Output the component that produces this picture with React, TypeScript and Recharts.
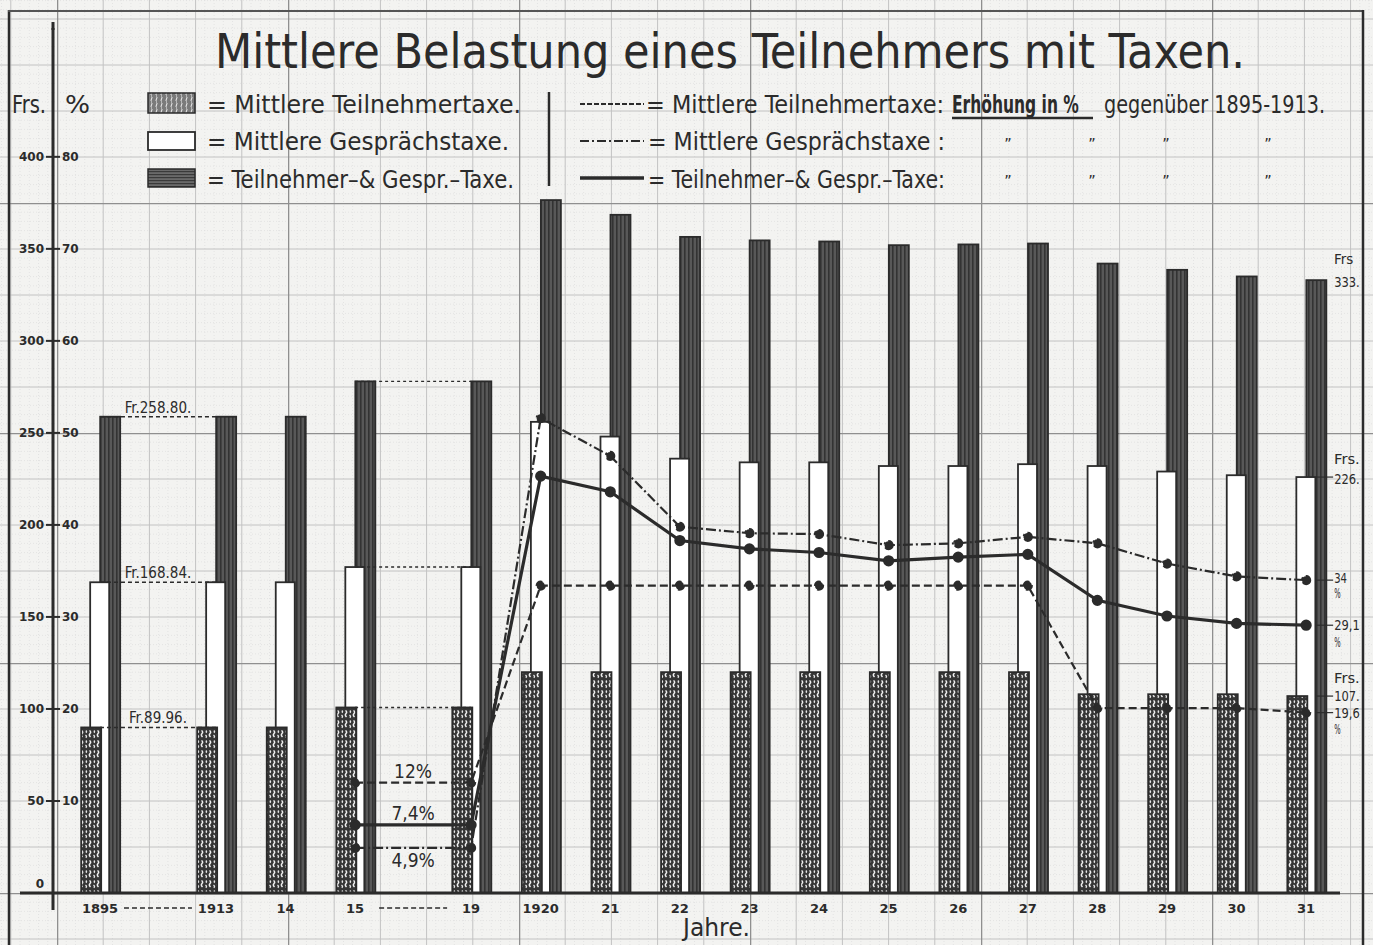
import React from "react";
import {
  ComposedChart,
  Bar,
  Line,
  XAxis,
  YAxis,
  ReferenceLine,
  ReferenceDot,
} from "recharts";

// Jahre (tick labels); "1913" and "19" close a "von–bis" span on the axis
const years = ["1895", "1913", "14", "15", "19", "1920", "21", "22", "23", "24", "25", "26", "27", "28", "29", "30", "31"];
const rangeEnds = ["1913", "19"];

// Frs. per Teilnehmer
const teilnehmerTaxe = [89.96, 89.96, 89.96, 100.8, 100.8, 120, 120, 120, 120, 120, 120, 120, 120, 108, 108, 108, 107];
const gespraechsTaxe = [168.84, 168.84, 168.84, 177.1, 177.1, 256, 248, 236, 234, 234, 232, 232, 233, 232, 229, 227, 226];
const gesamtTaxe = [258.8, 258.8, 258.8, 278, 278, 376.5, 368.5, 356.5, 354.6, 354, 352, 352.4, 352.9, 342, 338.6, 335, 333];

// Erhöhung in % gegenüber 1895-1913
const teilnehmerPct = [null, null, null, 12, 12, 33.4, 33.4, 33.4, 33.4, 33.4, 33.4, 33.4, 33.4, 20.1, 20.1, 20.1, 19.6];
const gespraechsPct = [null, null, null, 4.9, 4.9, 51.6, 47.5, 39.8, 39.1, 39.0, 37.8, 38.0, 38.7, 38.0, 35.8, 34.4, 34];
const gesamtPct = [null, null, null, 7.4, 7.4, 45.3, 43.6, 38.3, 37.4, 37.0, 36.1, 36.5, 36.8, 31.8, 30.1, 29.3, 29.1];

const frsTicks = [0, 50, 100, 150, 200, 250, 300, 350, 400];

const W = 1373;
const H = 945;
const AXIS_X = 53;
const AXIS_Y = 893;
const MARGIN = { top: 28, right: 33, bottom: 22, left: 0 };
const X_DOMAIN: [number, number] = [-0.675, 17.82];
const PX_PER_STEP = (W - MARGIN.right - AXIS_X) / (X_DOMAIN[1] - X_DOMAIN[0]);
const RANGE_STEP = 5 / 3;

const INK = "#2b2b2b";
const PAPER = "#f3f3f1";
const FONT = "'DejaVu Sans Condensed', 'Liberation Sans Narrow', 'DejaVu Sans', sans-serif";
const TICK_FONT = "'DejaVu Sans', sans-serif";

// spans like 1895-1913 get a wider step than single years
const positions: number[] = [];
years.forEach((y, i) => {
  positions.push(i === 0 ? 0 : positions[i - 1] + (rangeEnds.includes(y) ? RANGE_STEP : 1));
});

const data = years.map((year, i) => ({
  pos: positions[i],
  year,
  tn: teilnehmerTaxe[i],
  gs: gespraechsTaxe[i],
  sum: gesamtTaxe[i],
  tnPct: teilnehmerPct[i],
  gsPct: gespraechsPct[i],
  sumPct: gesamtPct[i],
}));

const last = years.length - 1;
const fr = (v: number) => `Fr.${v.toFixed(2)}.`;
const pct = (v: number) => `${String(v).replace(".", ",")}%`;

const barShape = (dx: number, fill: string) => (p: any) => (
  <rect x={p.x + dx} y={p.y} width={p.width} height={p.height} fill={fill} stroke={INK} strokeWidth={1.8} />
);

const FrsTick = (p: any) => {
  const v = p.payload.value;
  const y = p.y;
  if (v === 0) {
    return (
      <text x={40} y={y - 5} textAnchor="middle" fontSize={12} fontWeight="bold" fontFamily={TICK_FONT} fill={INK}>
        0
      </text>
    );
  }
  return (
    <g>
      <text x={44} y={y + 4} textAnchor="end" fontSize={12} fontWeight="bold" fontFamily={TICK_FONT} fill={INK}>
        {v}
      </text>
      <line x1={AXIS_X - 7} x2={AXIS_X + 7} y1={y} y2={y} stroke={INK} strokeWidth={2} />
      <text x={62} y={y + 4} textAnchor="start" fontSize={12} fontWeight="bold" fontFamily={TICK_FONT} fill={INK}>
        {v / 5}
      </text>
    </g>
  );
};

const YearTick = (p: any) => {
  const i = positions.findIndex((v) => Math.abs(v - p.payload.value) < 1e-9);
  const label = years[i] ?? "";
  const x = p.x;
  const y = AXIS_Y + 20;
  const isEnd = rangeEnds.includes(label);
  return (
    <g>
      {isEnd && (
        <line
          x1={x - RANGE_STEP * PX_PER_STEP + 24}
          x2={x - 24}
          y1={y - 5}
          y2={y - 5}
          stroke={INK}
          strokeWidth={1.5}
          strokeDasharray="5 3"
        />
      )}
      <text x={x} y={y} textAnchor="middle" fontSize={13} fontWeight="bold" fontFamily={TICK_FONT} fill={INK}>
        {label}
      </text>
    </g>
  );
};

const SideNote = (lines: string[], dy: number[], lead: boolean) => (p: any) => {
  const vb = p.viewBox || {};
  const cx = (vb.x ?? 0) + (vb.width ?? 0) / 2;
  const cy = (vb.y ?? 0) + (vb.height ?? 0) / 2;
  return (
    <g>
      {lead && <line x1={cx + 10} x2={cx + 27} y1={cy} y2={cy} stroke={INK} strokeWidth={1.2} />}
      {lines.map((t, k) => (
        <text
          key={k}
          x={cx + 28}
          y={cy + dy[k]}
          fontSize={14}
          fontFamily={FONT}
          fill={INK}
          textLength={t.length * 6.4}
          lengthAdjust="spacingAndGlyphs"
        >
          {t}
        </text>
      ))}
    </g>
  );
};

const textStyle = { fontFamily: FONT, fill: INK } as const;

export default function App() {
  const mid1519 = (positions[3] + positions[4]) / 2;
  const ditto = "\u201D";

  return (
    <div style={{ position: "absolute", left: 0, top: 0, width: W, height: H, background: PAPER, overflow: "hidden" }}>
      {/* graph paper */}
      <svg width={W} height={H} style={{ position: "absolute", left: 0, top: 0 }}>
        <defs>
          <pattern id="paper" x={57} y={AXIS_Y} width={231} height={230} patternUnits="userSpaceOnUse">
            {[1, 2, 3, 4, 6, 7, 8, 9, 11, 12, 13, 14, 16, 17, 18, 19, 21, 22, 23, 24].map((k) => (
              <g key={k}>
                <line x1={k * 9.24} x2={k * 9.24} y1={0} y2={230} stroke="#e0e0e0" strokeWidth={0.8} strokeDasharray="1 2" />
                <line x1={0} x2={231} y1={k * 9.2} y2={k * 9.2} stroke="#e0e0e0" strokeWidth={0.8} strokeDasharray="1 2" />
              </g>
            ))}
            {[1, 2, 3, 4].map((k) => (
              <g key={k}>
                <line x1={k * 46.2} x2={k * 46.2} y1={0} y2={230} stroke="#c2c2c2" strokeWidth={1} />
                <line x1={0} x2={231} y1={k * 46} y2={k * 46} stroke="#c2c2c2" strokeWidth={1} />
              </g>
            ))}
            <line x1={0.6} x2={0.6} y1={0} y2={230} stroke="#8f8f8f" strokeWidth={1.4} />
            <line x1={0} x2={231} y1={0.6} y2={0.6} stroke="#8f8f8f" strokeWidth={1.4} />
          </pattern>
        </defs>
        <rect x={0} y={0} width={W} height={H} fill="url(#paper)" />
      </svg>

      <div style={{ position: "absolute", left: 0, top: 0 }}>
        <ComposedChart width={W} height={H} data={data} margin={MARGIN}>
          <defs>
            <pattern id="weave" width={8} height={10} patternUnits="userSpaceOnUse">
              <rect width={8} height={10} fill="#353535" />
              <path d="M1.5 0.5 q2 1.5 0.5 3 q-1.5 1.5 0.5 3.5" stroke="#f0f0f0" strokeWidth={1.5} fill="none" />
              <path d="M5.5 5 q1.8 1.4 0.3 2.8 M5.8 0.6 q1.3 1 0.2 2.2" stroke="#e8e8e8" strokeWidth={1.4} fill="none" />
            </pattern>
            <pattern id="stripes" width={4} height={4} patternUnits="userSpaceOnUse">
              <rect width={4} height={4} fill="#585858" />
              <rect x={0} width={1.6} height={4} fill="#333333" />
            </pattern>
          </defs>

          <XAxis
            xAxisId="main"
            dataKey="pos"
            type="number"
            domain={X_DOMAIN}
            ticks={positions}
            interval={0}
            tick={YearTick}
            tickLine={false}
            axisLine={{ stroke: INK, strokeWidth: 3 }}
            height={30}
          />
          <XAxis xAxisId="tn" dataKey="pos" type="number" domain={X_DOMAIN} height={0} hide />
          <XAxis xAxisId="gs" dataKey="pos" type="number" domain={X_DOMAIN} height={0} hide />
          <XAxis xAxisId="sum" dataKey="pos" type="number" domain={X_DOMAIN} height={0} hide />
          <YAxis
            yAxisId="frs"
            domain={[0, 470]}
            ticks={frsTicks}
            interval={0}
            width={AXIS_X}
            tick={FrsTick}
            tickLine={false}
            axisLine={{ stroke: INK, strokeWidth: 3 }}
          />
          <YAxis yAxisId="pct" domain={[0, 94]} width={0} hide />

          {/* Fr. values 1895-1913 */}
          {[gesamtTaxe[0], gespraechsTaxe[0], teilnehmerTaxe[0]].map((v) => (
            <ReferenceLine
              key={`a${v}`}
              xAxisId="main"
              yAxisId="frs"
              segment={[{ x: positions[0], y: v }, { x: positions[1], y: v }]}
              stroke={INK}
              strokeWidth={1.4}
              strokeDasharray="4 3"
              label={{ value: fr(v), position: "top", fontSize: 15, fontFamily: FONT, fill: INK, offset: 4 }}
            />
          ))}
          {/* levels 1915-1919 */}
          {[gesamtTaxe[3], gespraechsTaxe[3], teilnehmerTaxe[3]].map((v) => (
            <ReferenceLine
              key={`b${v}`}
              xAxisId="main"
              yAxisId="frs"
              segment={[{ x: positions[3], y: v }, { x: positions[4], y: v }]}
              stroke={INK}
              strokeWidth={1.4}
              strokeDasharray="3 3"
            />
          ))}

          <Bar xAxisId="sum" yAxisId="frs" dataKey="sum" barSize={20} shape={barShape(10, "url(#stripes)")} isAnimationActive={false} />
          <Bar xAxisId="gs" yAxisId="frs" dataKey="gs" barSize={19} shape={barShape(0, "#ffffff")} isAnimationActive={false} />
          <Bar xAxisId="tn" yAxisId="frs" dataKey="tn" barSize={20} shape={barShape(-9, "url(#weave)")} isAnimationActive={false} />

          <Line
            xAxisId="main"
            yAxisId="pct"
            dataKey="tnPct"
            stroke={INK}
            strokeWidth={2.2}
            strokeDasharray="8 4"
            dot={{ r: 4, fill: INK, stroke: INK }}
            activeDot={false}
            isAnimationActive={false}
          />
          <Line
            xAxisId="main"
            yAxisId="pct"
            dataKey="gsPct"
            stroke={INK}
            strokeWidth={2.2}
            strokeDasharray="10 3 2 3"
            dot={{ r: 4, fill: INK, stroke: INK }}
            activeDot={false}
            isAnimationActive={false}
          />
          <Line
            xAxisId="main"
            yAxisId="pct"
            dataKey="sumPct"
            stroke={INK}
            strokeWidth={3.2}
            dot={{ r: 4, fill: INK, stroke: INK }}
            activeDot={false}
            isAnimationActive={false}
          />

          {/* % labels 1915-1919 */}
          <ReferenceDot xAxisId="main" yAxisId="pct" x={mid1519} y={teilnehmerPct[3] as number} r={0}
            label={{ value: pct(teilnehmerPct[3] as number), position: "top", fontSize: 19, fontFamily: FONT, fill: INK, offset: 5 }} />
          <ReferenceDot xAxisId="main" yAxisId="pct" x={mid1519} y={gesamtPct[3] as number} r={0}
            label={{ value: pct(gesamtPct[3] as number), position: "top", fontSize: 19, fontFamily: FONT, fill: INK, offset: 5 }} />
          <ReferenceDot xAxisId="main" yAxisId="pct" x={mid1519} y={gespraechsPct[3] as number} r={0}
            label={{ value: pct(gespraechsPct[3] as number), position: "bottom", fontSize: 19, fontFamily: FONT, fill: INK, offset: 6 }} />

          {/* notes at 1931 */}
          <ReferenceDot xAxisId="main" yAxisId="frs" x={positions[last]} y={gesamtTaxe[last]} r={0}
            label={{ content: SideNote(["Frs", `${gesamtTaxe[last]}.`], [-16, 7], false) }} />
          <ReferenceDot xAxisId="main" yAxisId="frs" x={positions[last]} y={gespraechsTaxe[last]} r={0}
            label={{ content: SideNote(["Frs.", `${gespraechsTaxe[last]}.`], [-13, 7], true) }} />
          <ReferenceDot xAxisId="main" yAxisId="frs" x={positions[last]} y={teilnehmerTaxe[last]} r={0}
            label={{ content: SideNote(["Frs.", `${teilnehmerTaxe[last]}.`], [-13, 5], true) }} />
          <ReferenceDot xAxisId="main" yAxisId="pct" x={positions[last]} y={gespraechsPct[last] as number} r={0}
            label={{ content: SideNote([String(gespraechsPct[last]), "%"], [3, 18], true) }} />
          <ReferenceDot xAxisId="main" yAxisId="pct" x={positions[last]} y={gesamtPct[last] as number} r={0}
            label={{ content: SideNote([String(gesamtPct[last]).replace(".", ","), "%"], [5, 22], true) }} />
          <ReferenceDot xAxisId="main" yAxisId="pct" x={positions[last]} y={teilnehmerPct[last] as number} r={0}
            label={{ content: SideNote([String(teilnehmerPct[last]).replace(".", ","), "%"], [5, 21], true) }} />
        </ComposedChart>
      </div>

      {/* title, legend, frame */}
      <svg width={W} height={H} style={{ position: "absolute", left: 0, top: 0, pointerEvents: "none" }}>
        <defs>
          <pattern id="legTn" width={5} height={6} patternUnits="userSpaceOnUse">
            <rect width={5} height={6} fill="#7a7a7a" />
            <path d="M1.5 0.5 q1 1.2 0 2.5 q-1 1.2 0 2.5" stroke="#f4f4f4" strokeWidth={1} fill="none" />
          </pattern>
          <pattern id="legSum" width={4} height={3} patternUnits="userSpaceOnUse">
            <rect width={4} height={3} fill="#6a6a6a" />
            <rect y={0} width={4} height={1.2} fill="#3a3a3a" />
          </pattern>
        </defs>

        <line x1={9} y1={10} x2={9} y2={H} stroke={INK} strokeWidth={2.5} />
        <line x1={8} y1={11} x2={1364} y2={11} stroke="#555" strokeWidth={2} />
        <line x1={1363} y1={10} x2={1363} y2={H} stroke={INK} strokeWidth={2.5} />
        <line x1={AXIS_X} y1={22} x2={AXIS_X} y2={30} stroke={INK} strokeWidth={3} />
        <line x1={AXIS_X} y1={AXIS_Y} x2={AXIS_X} y2={910} stroke={INK} strokeWidth={3} />
        <line x1={20} y1={AXIS_Y} x2={AXIS_X} y2={AXIS_Y} stroke={INK} strokeWidth={3} />

        <text x={730} y={68} textAnchor="middle" fontSize={48} textLength={1030} lengthAdjust="spacingAndGlyphs" {...textStyle}>
          Mittlere Belastung eines Teilnehmers mit Taxen.
        </text>

        <text x={12} y={113} fontSize={24} textLength={34} lengthAdjust="spacingAndGlyphs" {...textStyle}>Frs.</text>
        <text x={65} y={113} fontSize={24} textLength={25} lengthAdjust="spacingAndGlyphs" {...textStyle}>%</text>

        <rect x={148} y={93} width={47} height={20} fill="url(#legTn)" stroke={INK} strokeWidth={1.5} />
        <rect x={148} y={132} width={47} height={18} fill="#fff" stroke={INK} strokeWidth={1.8} />
        <rect x={148} y={169} width={47} height={18} fill="url(#legSum)" stroke={INK} strokeWidth={1.5} />
        <text x={207} y={113} fontSize={25} textLength={314} lengthAdjust="spacingAndGlyphs" {...textStyle}>
          = Mittlere Teilnehmertaxe.
        </text>
        <text x={207} y={150} fontSize={25} textLength={302} lengthAdjust="spacingAndGlyphs" {...textStyle}>
          = Mittlere Gesprächstaxe.
        </text>
        <text x={207} y={188} fontSize={25} textLength={307} lengthAdjust="spacingAndGlyphs" {...textStyle}>
          = Teilnehmer–&amp; Gespr.–Taxe.
        </text>

        <line x1={549} y1={92} x2={549} y2={186} stroke={INK} strokeWidth={2.5} />

        <line x1={580} y1={104} x2={644} y2={104} stroke={INK} strokeWidth={2} strokeDasharray="5 2" />
        <line x1={580} y1={141} x2={644} y2={141} stroke={INK} strokeWidth={2.2} strokeDasharray="9 3 2 3" />
        <line x1={580} y1={178} x2={644} y2={178} stroke={INK} strokeWidth={3.5} />

        <text x={646} y={113} fontSize={25} textLength={298} lengthAdjust="spacingAndGlyphs" {...textStyle}>
          = Mittlere Teilnehmertaxe:
        </text>
        <text transform="translate(952 113) scale(0.69 1)" x={0} y={0} fontSize={25} fontWeight="bold" {...textStyle}>
          Erhöhung in %
        </text>
        <line x1={952} y1={118} x2={1093} y2={118} stroke={INK} strokeWidth={2.5} />
        <text x={1104} y={113} fontSize={25} textLength={221} lengthAdjust="spacingAndGlyphs" {...textStyle}>
          gegenüber 1895-1913.
        </text>

        <text x={648} y={150} fontSize={25} textLength={297} lengthAdjust="spacingAndGlyphs" {...textStyle}>
          = Mittlere Gesprächstaxe :
        </text>
        <text x={648} y={188} fontSize={25} textLength={297} lengthAdjust="spacingAndGlyphs" {...textStyle}>
          = Teilnehmer–&amp; Gespr.–Taxe:
        </text>
        {[1008, 1092, 1166, 1268].map((x) => (
          <g key={x}>
            <text x={x} y={150} fontSize={16} textAnchor="middle" {...textStyle}>{ditto}</text>
            <text x={x} y={187} fontSize={16} textAnchor="middle" {...textStyle}>{ditto}</text>
          </g>
        ))}

        <text x={683} y={936} fontSize={25} textLength={67} lengthAdjust="spacingAndGlyphs" {...textStyle}>
          Jahre.
        </text>
      </svg>
    </div>
  );
}
